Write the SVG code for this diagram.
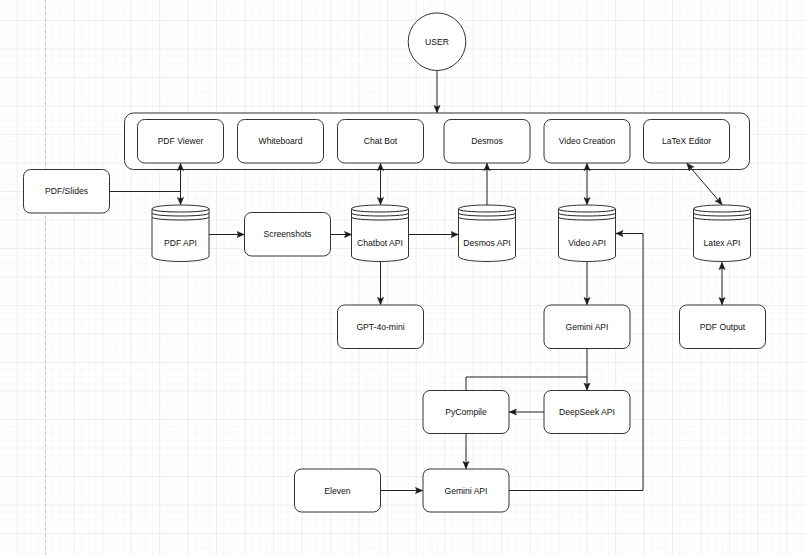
<svg xmlns="http://www.w3.org/2000/svg" width="806" height="555" viewBox="0 0 806 555">
<defs>
  <pattern id="minor" patternUnits="userSpaceOnUse" x="16.7" y="20" width="7.125" height="7.125">
    <path d="M0,0 H7.125 M0,0 V7.125" fill="none" stroke="#f3f3f3" stroke-width="1"/>
  </pattern>
  <pattern id="major" patternUnits="userSpaceOnUse" x="16.7" y="20" width="28.5" height="28.5">
    <path d="M0,0 H28.5 M0,0 V28.5" fill="none" stroke="#e3e3e3" stroke-width="1"/>
  </pattern>
  <marker id="arr" viewBox="0 0 8 8" refX="7.5" refY="4" markerWidth="8" markerHeight="8" markerUnits="userSpaceOnUse" orient="auto-start-reverse">
    <path d="M0.5,1 L7.5,4 L0.5,7 L2,4 Z" fill="#1a1a1a" stroke="#1a1a1a" stroke-width="0.6"/>
  </marker>
</defs>
<style>
  .box { fill: #ffffff; stroke: #333333; stroke-width: 1; }
  .lbl { font-family: "Liberation Sans", Arial, sans-serif; font-size: 8.6px; fill: #111111; text-anchor: middle; }
  .edge { fill: none; stroke: #222222; stroke-width: 1; }
  .a { marker-end: url(#arr); }
  .ab { marker-start: url(#arr); marker-end: url(#arr); }
</style>
<rect x="0" y="0" width="806" height="555" fill="#ffffff"/>
<rect x="0" y="0" width="806" height="555" fill="url(#minor)"/>
<rect x="0" y="0" width="806" height="555" fill="url(#major)"/>
<line x1="45.5" y1="0" x2="45.5" y2="555" stroke="#c4c4c4" stroke-width="1" stroke-dasharray="3,3"/>

<g id="user">
  <circle class="box" cx="437" cy="41.7" r="28.8"/>
  <text class="lbl" x="437" y="44.7">USER</text>
</g>

<g id="frontend">
  <rect class="box" x="124.5" y="113" width="625" height="56.5" rx="9" ry="9"/>
</g>
<g id="pdf-viewer">
  <rect class="box" x="137.5" y="119.5" width="86" height="43.5" rx="7" ry="7"/>
  <text class="lbl" x="180.5" y="144.3">PDF Viewer</text>
</g>
<g id="whiteboard">
  <rect class="box" x="237.5" y="119.5" width="86" height="43.5" rx="7" ry="7"/>
  <text class="lbl" x="280.5" y="144.3">Whiteboard</text>
</g>
<g id="chat-bot">
  <rect class="box" x="337.5" y="119.5" width="86" height="43.5" rx="7" ry="7"/>
  <text class="lbl" x="380.5" y="144.3">Chat Bot</text>
</g>
<g id="desmos">
  <rect class="box" x="444" y="119.5" width="86" height="43.5" rx="7" ry="7"/>
  <text class="lbl" x="487" y="144.3">Desmos</text>
</g>
<g id="video-creation">
  <rect class="box" x="544" y="119.5" width="86" height="43.5" rx="7" ry="7"/>
  <text class="lbl" x="587" y="144.3">Video Creation</text>
</g>
<g id="latex-editor">
  <rect class="box" x="643.5" y="119.5" width="86" height="43.5" rx="7" ry="7"/>
  <text class="lbl" x="686.5" y="144.3">LaTeX Editor</text>
</g>

<g id="pdf-slides">
  <rect class="box" x="23.5" y="169.5" width="86" height="43.5" rx="7" ry="7"/>
  <text class="lbl" x="66.5" y="194.3">PDF/Slides</text>
</g>

<g id="pdf-api" transform="translate(152,0)">
  <path class="box" d="M0,209 C0,203.7 57,203.7 57,209 V256 C57,263.3 0,263.3 0,256 Z"/>
  <path class="edge" d="M0,209 C0,213 57,213 57,209 M0,213 C0,217 57,217 57,213 M0,217 C0,221 57,221 57,217"/>
  <text class="lbl" x="28.5" y="246.3">PDF API</text>
</g>
<g id="screenshots">
  <rect class="box" x="244.5" y="212.5" width="86" height="43.5" rx="7" ry="7"/>
  <text class="lbl" x="287.5" y="237.3">Screenshots</text>
</g>
<g id="chatbot-api" transform="translate(351.5,0)">
  <path class="box" d="M0,209 C0,203.7 57,203.7 57,209 V256 C57,263.3 0,263.3 0,256 Z"/>
  <path class="edge" d="M0,209 C0,213 57,213 57,209 M0,213 C0,217 57,217 57,213 M0,217 C0,221 57,221 57,217"/>
  <text class="lbl" x="28.5" y="246.3">Chatbot API</text>
</g>
<g id="desmos-api" transform="translate(458.5,0)">
  <path class="box" d="M0,209 C0,203.7 57,203.7 57,209 V256 C57,263.3 0,263.3 0,256 Z"/>
  <path class="edge" d="M0,209 C0,213 57,213 57,209 M0,213 C0,217 57,217 57,213 M0,217 C0,221 57,221 57,217"/>
  <text class="lbl" x="28.5" y="246.3">Desmos API</text>
</g>
<g id="video-api" transform="translate(558.5,0)">
  <path class="box" d="M0,209 C0,203.7 57,203.7 57,209 V256 C57,263.3 0,263.3 0,256 Z"/>
  <path class="edge" d="M0,209 C0,213 57,213 57,209 M0,213 C0,217 57,217 57,213 M0,217 C0,221 57,221 57,217"/>
  <text class="lbl" x="28.5" y="246.3">Video API</text>
</g>
<g id="latex-api" transform="translate(693.5,0)">
  <path class="box" d="M0,209 C0,203.7 57,203.7 57,209 V256 C57,263.3 0,263.3 0,256 Z"/>
  <path class="edge" d="M0,209 C0,213 57,213 57,209 M0,213 C0,217 57,217 57,213 M0,217 C0,221 57,221 57,217"/>
  <text class="lbl" x="28.5" y="246.3">Latex API</text>
</g>

<g id="gpt-4o-mini">
  <rect class="box" x="337.5" y="305" width="86" height="43.5" rx="7" ry="7"/>
  <text class="lbl" x="380.5" y="329.8">GPT-4o-mini</text>
</g>
<g id="gemini-api-1">
  <rect class="box" x="544" y="305" width="86" height="43.5" rx="7" ry="7"/>
  <text class="lbl" x="587" y="329.8">Gemini API</text>
</g>
<g id="pdf-output">
  <rect class="box" x="679.5" y="305" width="86" height="43.5" rx="7" ry="7"/>
  <text class="lbl" x="722.5" y="329.8">PDF Output</text>
</g>
<g id="pycompile">
  <rect class="box" x="423" y="390.5" width="86" height="43" rx="7" ry="7"/>
  <text class="lbl" x="466" y="415">PyCompile</text>
</g>
<g id="deepseek-api">
  <rect class="box" x="544" y="390.5" width="86" height="43" rx="7" ry="7"/>
  <text class="lbl" x="587" y="415">DeepSeek API</text>
</g>
<g id="eleven">
  <rect class="box" x="294.5" y="469" width="86" height="43" rx="7" ry="7"/>
  <text class="lbl" x="337.5" y="493.5">Eleven</text>
</g>
<g id="gemini-api-2">
  <rect class="box" x="423" y="469" width="86" height="43" rx="7" ry="7"/>
  <text class="lbl" x="466" y="493.5">Gemini API</text>
</g>

<g id="connectors">
  <path class="edge a" d="M437,70.5 V112.5"/>
  <path class="edge ab" d="M180.5,163.5 V204.5"/>
  <path class="edge" d="M109.5,191.5 H180.5"/>
  <path class="edge ab" d="M380.5,163.5 V204.5"/>
  <path class="edge a" d="M487,205 V163.5"/>
  <path class="edge ab" d="M587,163.5 V204.5"/>
  <path class="edge ab" d="M687,163.5 L722,204.5"/>
  <path class="edge a" d="M209,234.5 H244"/>
  <path class="edge a" d="M330.5,234.5 H351.5"/>
  <path class="edge a" d="M408.5,234.5 H458"/>
  <path class="edge a" d="M380.5,262 V304.5"/>
  <path class="edge a" d="M587,262 V304.5"/>
  <path class="edge ab" d="M722,262.5 V304.5"/>
  <path class="edge a" d="M587,348.5 V390"/>
  <path class="edge" d="M466,390.5 V377 H587"/>
  <path class="edge a" d="M544,412 H509.5"/>
  <path class="edge a" d="M466,433.5 V468.5"/>
  <path class="edge a" d="M380.5,490.5 H422.5"/>
  <path class="edge a" d="M509,490.5 H643 V233.5 H616"/>
</g>
</svg>
